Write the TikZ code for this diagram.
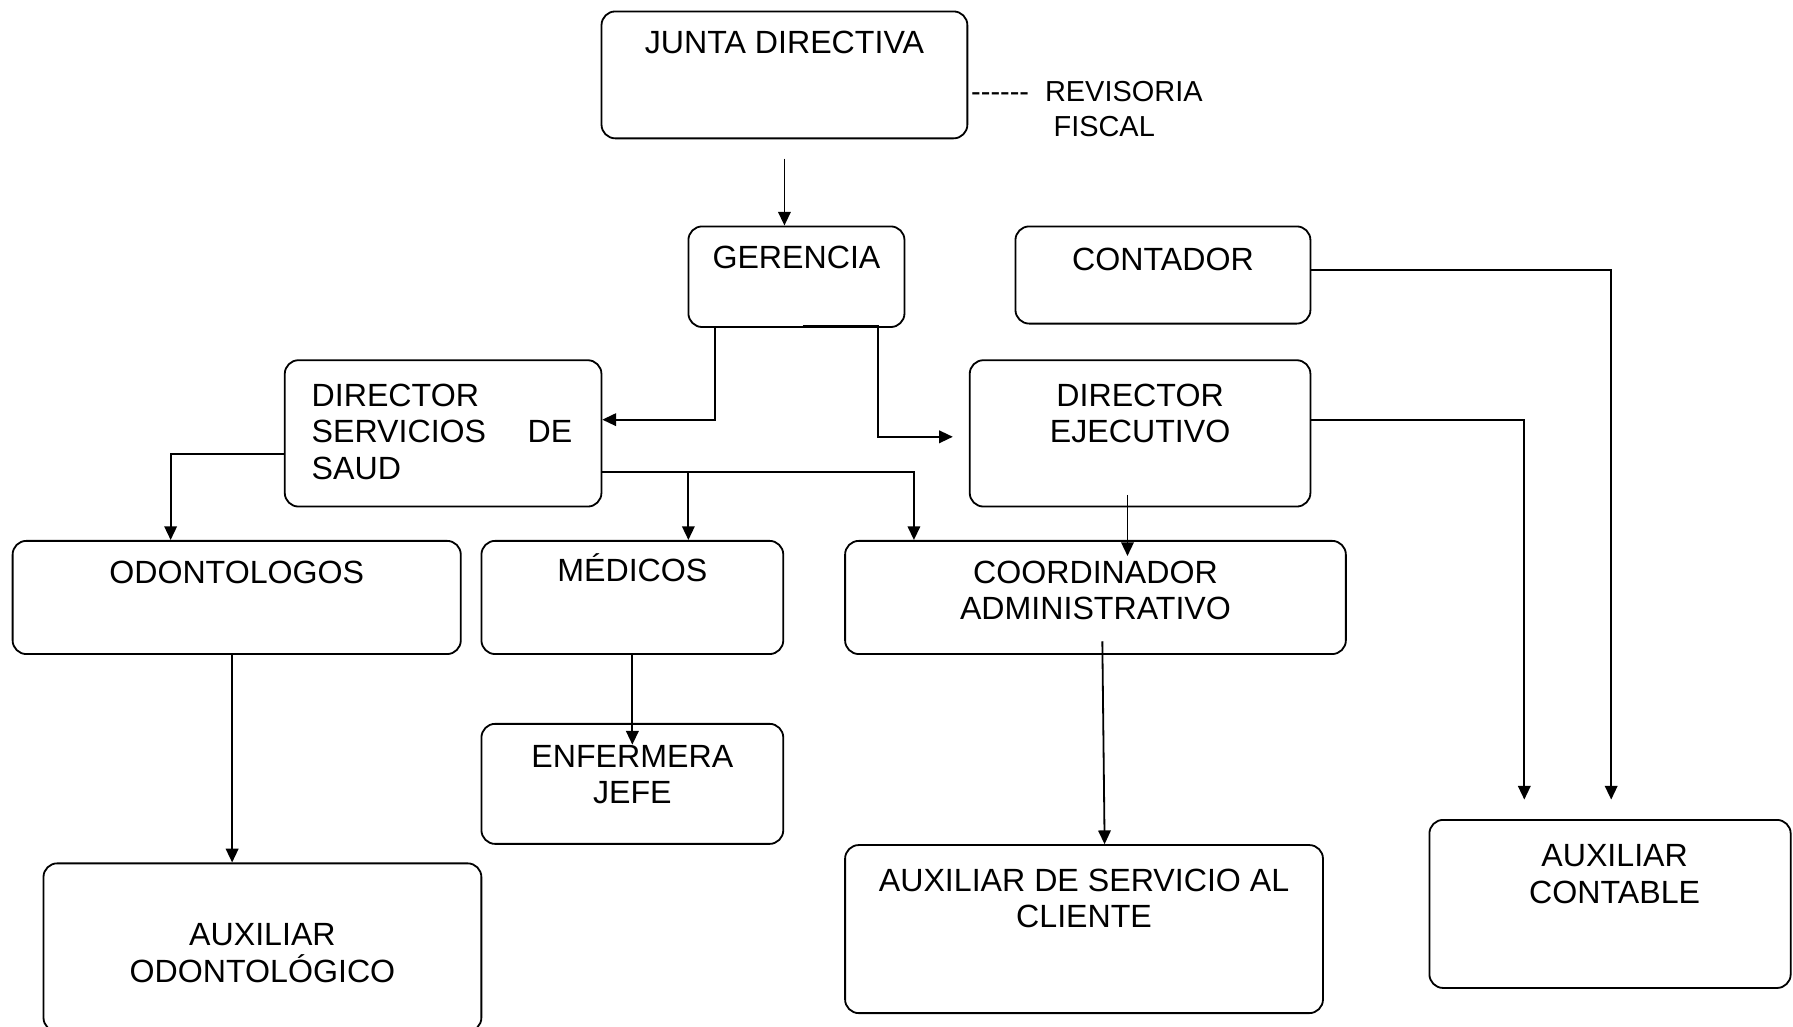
\documentclass[tikz,border=0pt]{standalone}
\usepackage{fontspec}
\setmainfont{Liberation Sans}
\usetikzlibrary{arrows.meta,positioning}
\tikzstyle{box} = [rectangle, draw, rounded corners=0.24cm, line width=0.9pt, inner sep=0pt]
\tikzstyle{txt} = [inner sep=0pt, align=center, font=\fontsize{16}{18.2}\selectfont]
\tikzstyle{note} = [inner sep=0pt, anchor=base west, font=\fontsize{14.4}{17}\selectfont]
\tikzstyle{line} = [draw, line width=0.9pt, -{Triangle[length=0.24cm,width=0.22cm]}]

\begin{document}
\begin{tikzpicture}[x=0.02cm, y=-0.02cm]
		\useasboundingbox (0,0) rectangle (1568,898);
		% Place boxes
		\node [box, minimum width=6.4cm, minimum height=2.22cm] (junta) at (686,65.5) {};
		\node [box, minimum width=3.78cm, minimum height=1.76cm] (gerencia) at (696.5,242) {};
		\node [box, minimum width=5.16cm, minimum height=1.7cm] (contador) at (1017,240.5) {};
		\node [box, minimum width=5.54cm, minimum height=2.56cm] (dss) at (387.5,379) {};
		\node [box, minimum width=5.96cm, minimum height=2.56cm] (direjec) at (997,379) {};
		\node [box, minimum width=7.84cm, minimum height=1.98cm] (odonto) at (207,522.5) {};
		\node [box, minimum width=5.28cm, minimum height=1.98cm] (medicos) at (553,522.5) {};
		\node [box, minimum width=8.76cm, minimum height=1.98cm] (coord) at (958,522.5) {};
		\node [box, minimum width=5.28cm, minimum height=2.1cm] (enfermera) at (553,685.5) {};
		\node [box, minimum width=7.66cm, minimum height=2.94cm] (auxodon) at (229.5,828.5) {};
		\node [box, minimum width=8.36cm, minimum height=2.94cm] (auxserv) at (948,812.5) {};
		\node [box, minimum width=6.32cm, minimum height=2.94cm] (auxcont) at (1408,790.5) {};
		% Place texts
		\node [txt, below=0.36cm of junta.north] (junta-txt) {JUNTA DIRECTIVA};
		\node [note] (revisoria) at (849,89) {-{}-{}-{}-{}-{}-\hspace{0.28cm}REVISORIA};
		\node [note] (fiscal) at (921,119) {FISCAL};
		\node [txt, below=0.36cm of gerencia.north] (gerencia-txt) {GERENCIA};
		\node [txt, below=0.38cm of contador.north] (contador-txt) {CONTADOR};
		\node [txt, align=left, below right=0.42cm and 0.48cm of dss.north west] (dss-txt) {DIRECTOR\\\hbox to 4.56cm{SERVICIOS\hfill DE}\\SAUD};
		\node [txt, below=0.42cm of direjec.north] (direjec-txt) {DIRECTOR\\EJECUTIVO};
		\node [txt, below=0.36cm of odonto.north] (odonto-txt) {ODONTOLOGOS};
		\node [txt, below=0.24cm of medicos.north] (medicos-txt) {MÉDICOS};
		\node [txt, below=0.36cm of coord.north] (coord-txt) {COORDINADOR\\ADMINISTRATIVO};
		\node [txt, below=0.38cm of enfermera.north] (enfermera-txt) {ENFERMERA\\JEFE};
		\node [txt, below=1.06cm of auxodon.north] (auxodon-txt) {AUXILIAR\\ODONTOLÓGICO};
		\node [txt, below=0.42cm of auxserv.north] (auxserv-txt) {AUXILIAR DE SERVICIO AL\\CLIENTE};
		\node [txt, below=0.44cm of auxcont.north, xshift=0.08cm] (auxcont-txt) {AUXILIAR\\CONTABLE};
		% Draw edges
		\path [line] ([yshift=-0.34cm]junta.south) -- (junta.south |- gerencia.north);
		\path [line] ([xshift=0.48cm]gerencia.south west) |- ([yshift=0.24cm]dss.east);
		\path [line] ([xshift=0.11cm, yshift=0.03cm]gerencia.south) -- ([xshift=1.43cm, yshift=0.03cm]gerencia.south) |- ([xshift=-0.28cm, yshift=-0.06cm]direjec.west);
		\path [line] ([yshift=0.09cm]contador.east) -| ([xshift=0.02cm, yshift=0.34cm]auxcont.north);
		\path [line] ([yshift=0.24cm]direjec.east) -| ([xshift=-1.5cm, yshift=0.34cm]auxcont.north);
		\path [line] ([xshift=-0.22cm, yshift=0.22cm]direjec.south) -- ([xshift=-0.22cm, yshift=-0.28cm]direjec.south |- coord.north);
		\path [line] ([yshift=-0.36cm]dss.west) -| ([xshift=2.78cm]odonto.north west);
		\coordinate (split) at ([yshift=-0.68cm]dss.east);
		\path [line] (split) -| ([xshift=1.22cm]coord.north west);
		\path [line] ([xshift=0.98cm]medicos.north |- split) -- ([xshift=0.98cm]medicos.north);
		\path [line] ([xshift=-0.08cm]odonto.south) -- ([xshift=-0.08cm]odonto.south |- auxodon.north);
		\path [line] (medicos.south) -- ([yshift=-0.38cm]enfermera.north);
		\path [line] ([xshift=0.12cm, yshift=0.24cm]coord.south) -- ([xshift=0.36cm]auxserv.north);
	\end{tikzpicture}
\end{document}
